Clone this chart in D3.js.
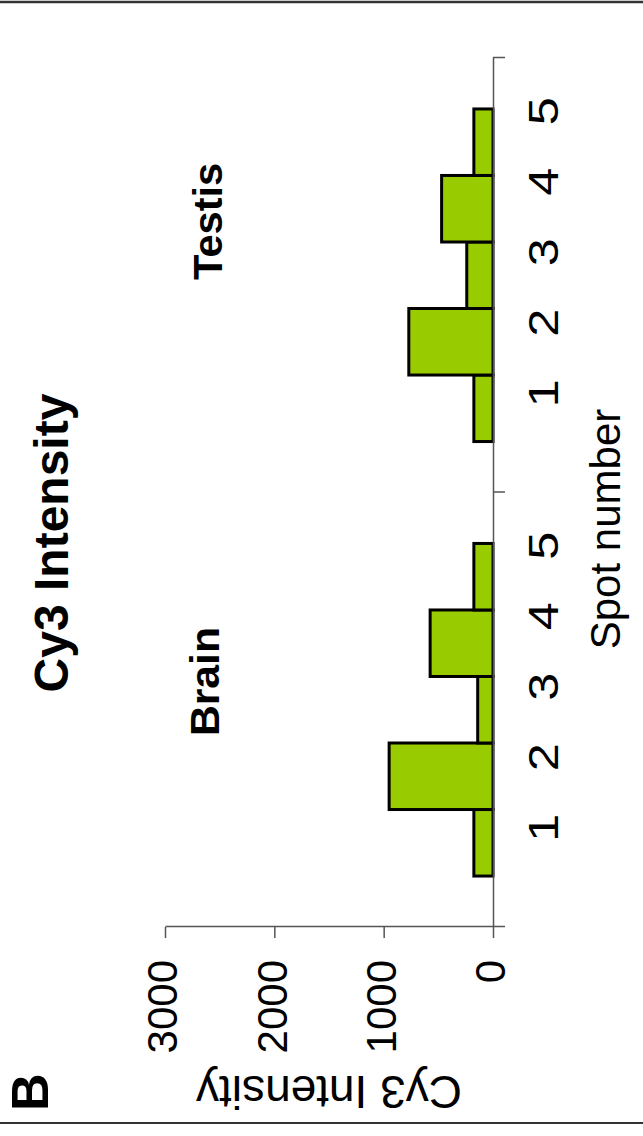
<!DOCTYPE html>
<html>
<head>
<meta charset="utf-8">
<script src="https://cdn.jsdelivr.net/npm/d3@7"></script>
<style>
  html, body { margin: 0; padding: 0; background: #fff; }
  svg { display: block; }
  text { font-family: "Liberation Sans", Arial, sans-serif; fill: #000; }
</style>
</head>
<body>
<script>
// ---- data ----
const groups = ["Brain", "Testis"];
const spots = ["1", "2", "3", "4", "5"];
const brainValues = [175, 950, 140, 575, 175];
const testisValues = [175, 770, 240, 470, 175];
const yTicks = [0, 1000, 2000, 3000];
const title = "Cy3 Intensity";
const yTitle = "Cy3 Intensity";
const xTitle = "Spot number";
const panelLabel = "B";

const seriesByGroup = { Brain: brainValues, Testis: testisValues };

// ---- canvas (chart is drawn in its own frame, then rotated 90° CCW) ----
const SW = 643, SH = 1136;      // screen size
const W = SH, H = SW;           // chart frame size (before rotation)

const svg = d3.select("body").append("svg")
  .attr("width", SW).attr("height", SH);

const g = svg.append("g")
  .attr("transform", `translate(0,${SH}) rotate(-90)`);

// frame lines
g.append("line").attr("x1", 1134).attr("x2", 1134).attr("y1", 0).attr("y2", H)
  .attr("stroke", "#333").attr("stroke-width", 2.5);
g.append("line").attr("x1", 13).attr("x2", 13).attr("y1", 0).attr("y2", H)
  .attr("stroke", "#333").attr("stroke-width", 2);

// scales
const plotLeft = 209, plotRight = 1078, plotTop = 165, plotBottom = 493;
const y = d3.scaleLinear().domain([0, 3000]).range([plotBottom, plotTop]);
const x0 = d3.scaleBand().domain(groups).range([plotLeft, plotRight]).padding(0);
const x1 = d3.scaleBand().domain(spots).range([0, x0.bandwidth()])
  .paddingInner(0).paddingOuter(0.766);
// spot-number labels sit slightly right of their bars, a bit wider spaced
const firstCenter = x1(spots[0]) + x1.bandwidth() / 2 + 15;
const xLab = d3.scalePoint().domain(spots)
  .range([firstCenter, firstCenter + (spots.length - 1) * x1.step() * 1.06]);

// bars
const grp = g.selectAll("g.grp").data(groups).join("g")
  .attr("class", "grp")
  .attr("transform", d => `translate(${x0(d)},0)`);

grp.selectAll("rect")
  .data(d => seriesByGroup[d].map((v, i) => ({ spot: spots[i], v })))
  .join("rect")
  .attr("x", d => x1(d.spot))
  .attr("width", x1.bandwidth())
  .attr("y", d => y(d.v))
  .attr("height", d => y(0) - y(d.v))
  .attr("fill", "#99cc00")
  .attr("stroke", "#000")
  .attr("stroke-width", 3);

// spot labels
grp.selectAll("text.spot")
  .data(spots).join("text")
  .attr("class", "spot")
  .attr("transform", d => `translate(${xLab(d)},558) scale(1.2,1)`)
  .attr("text-anchor", "middle")
  .style("font-size", "42px")
  .text(d => d);

// group labels
const groupLabelPos = { Brain: 0.565, Testis: 0.624 };
const groupLabelY = { Brain: 219, Testis: 222 };
const groupLabelLen = { Brain: 109, Testis: 117 };
g.selectAll("text.glabel").data(groups).join("text")
  .attr("class", "glabel")
  .attr("x", d => x0(d) + x0.bandwidth() * groupLabelPos[d])
  .attr("y", d => groupLabelY[d])
  .attr("text-anchor", "middle")
  .attr("textLength", d => groupLabelLen[d])
  .attr("lengthAdjust", "spacingAndGlyphs")
  .style("font-size", "40px").style("font-weight", "bold")
  .text(d => d);

// x axis (category separators)
const xb = d3.scaleLinear().domain([0, groups.length]).range([plotLeft, plotRight]);
const xAxis = g.append("g")
  .attr("transform", `translate(0,${plotBottom})`)
  .call(d3.axisBottom(xb).tickValues(d3.range(groups.length + 1))
    .tickFormat("").tickSizeInner(12).tickSizeOuter(0));
xAxis.selectAll("path, line").attr("stroke", "#555").attr("stroke-width", 1.5);

// y axis
const yAxis = g.append("g")
  .attr("transform", `translate(${plotLeft},0)`)
  .call(d3.axisLeft(y).tickValues(yTicks).tickFormat(d3.format("d"))
    .tickSizeInner(11).tickSizeOuter(0).tickPadding(22));
yAxis.selectAll("path, line").attr("stroke", "#555").attr("stroke-width", 1.5);
yAxis.selectAll("text")
  .style("font-size", "42px")
  .style("font-family", "'Liberation Sans', Arial, sans-serif")
  .attr("dy", "0.28em");

// titles
g.append("text")
  .attr("x", 593).attr("y", 68)
  .attr("text-anchor", "middle")
  .style("font-size", "48px").style("font-weight", "bold")
  .text(title);

g.append("text")
  .attr("x", 607).attr("y", 620)
  .attr("text-anchor", "middle")
  .style("font-size", "42px")
  .text(xTitle);

g.append("text")
  .attr("transform", `translate(60,${(plotTop + plotBottom) / 2}) rotate(-90)`)
  .attr("text-anchor", "middle")
  .style("font-size", "46px")
  .text(yTitle);

g.append("text")
  .attr("x", 25).attr("y", 48)
  .style("font-size", "52px").style("font-weight", "bold")
  .text(panelLabel);
</script>
</body>
</html>
